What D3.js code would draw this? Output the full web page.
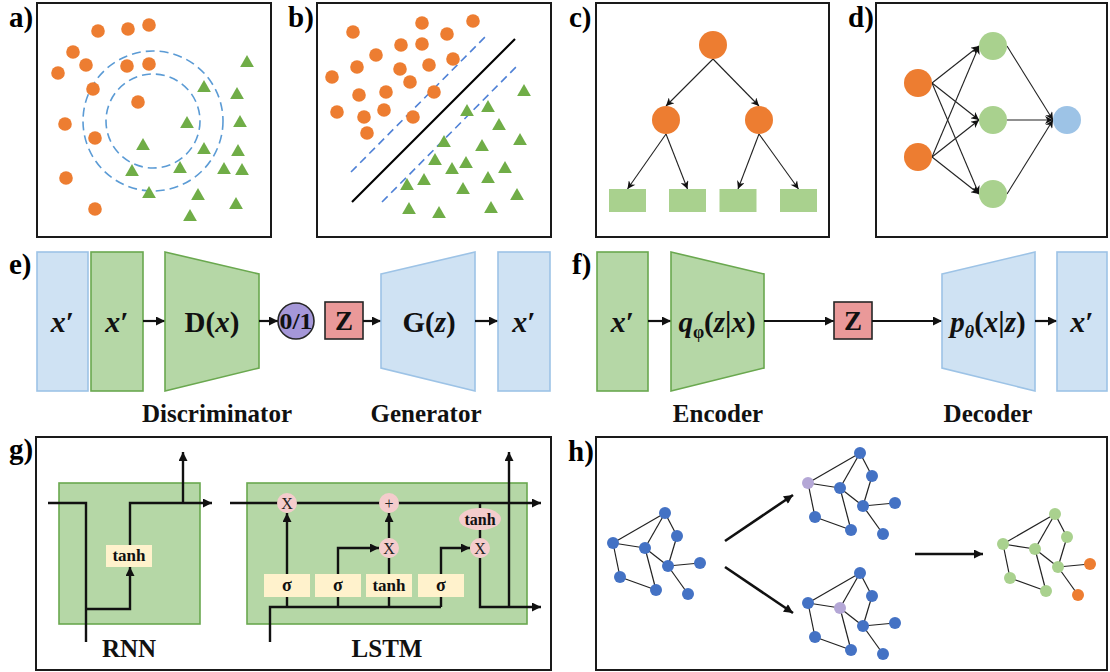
<!DOCTYPE html>
<html><head><meta charset="utf-8">
<script src="https://cdn.jsdelivr.net/npm/d3@7"></script>
<style>
body{margin:0;background:#fff}
svg{display:block}
</style>
</head><body>
<svg id="c" width="1110" height="672" font-family="'Liberation Serif','DejaVu Serif','Times New Roman',serif"></svg>
<script>
// ------------------------------------------------------------ data
const panelLabels = ["a)","b)","c)","d)","e)","f)","g)","h)"];

// panel a (local units of the 234 x 234 panel)
const aOrange = [[61,28],[91,26],[112,22],[36,49],[49,62],[21,70],[90,63],[112,61],[56,86],[101,99],[28,121],[58,135],[29,175],[58,206]];
const aGreen  = [[210,60],[167,85],[200,92],[150,121],[203,120],[106,143],[167,147],[201,149],[95,169],[143,166],[187,167],[205,168],[112,191],[161,193],[199,202],[153,214]];
const aRingCenter = [116,118];
const aRingRadii = [47,70];

// panel b
const bOrange = [[105,20],[156,18],[36,29],[130,31],[84,42],[105,41],[59,52],[136,56],[40,64],[112,62],[83,66],[15,74],[93,79],[42,92],[69,89],[117,89],[20,109],[67,107],[47,114],[96,114],[50,130]];
const bGreen  = [[207,89],[150,109],[171,105],[182,123],[127,140],[165,144],[203,138],[118,158],[149,161],[135,167],[188,166],[90,183],[107,178],[171,176],[146,187],[200,193],[92,207],[122,211],[174,206]];
const bBoundary = [[35,199],[198,36]];
const bMargins  = [[[34,169],[171,31]],[[65,199],[202,61]]];

// panel c (decision tree)
const treeSplits = [{id:"root",x:117,y:42},{id:"L",x:70,y:117},{id:"R",x:163,y:117}];
const treeLeaves = [{id:"l1",x:31.5,y:197.5},{id:"l2",x:91.5,y:197.5},{id:"l3",x:142,y:197.5},{id:"l4",x:202.5,y:197.5}];
const treeLinks  = [["root","L"],["root","R"],["L","l1"],["L","l2"],["R","l3"],["R","l4"]];

// panel d (neural network)
const nnInput  = [[42,80],[42,154]];
const nnHidden = [[117,43],[117,117],[117,191]];
const nnOutput = [[191,117]];

// panel e / f texts
const ganCaptions = ["Discriminator","Generator"];
const vaeCaptions = ["Encoder","Decoder"];

// panel g
const rnnCaption = "RNN";
const lstmCaption = "LSTM";
const lstmGates = ["σ","σ","tanh","σ"];

// panel h (graph)
const gNodes = {A:[665,513],B:[613,543],C:[645,548],D:[677,536],E:[668,566],F:[700,563],G:[620,577],H:[656,590],I:[688,594]};
const gEdges = [["B","A"],["B","C"],["B","G"],["A","C"],["A","D"],["C","E"],["C","H"],["D","E"],["E","F"],["E","I"],["G","H"]];
const gCopies = [
  {dx:0,   dy:0,   base:"#4472C4", special:{}},
  {dx:195, dy:-60, base:"#4472C4", special:{B:"#B4A7D6"}},
  {dx:195, dy:60,  base:"#4472C4", special:{C:"#B4A7D6"}},
  {dx:390, dy:1,   base:"#A9D18E", special:{F:"#ED7D31", I:"#ED7D31"}}
];

// ------------------------------------------------------------ setup
const SERIF = "'Liberation Serif','DejaVu Serif','Times New Roman',serif";
const ORANGE="#ED7D31", TRI="#70AD47", LEAF="#A9D18E", LBLUE="#9DC3E6";
const GFILL="#B5D7A6", GSTROKE="#6AA84F", BFILL="#CFE2F3", BSTROKE="#9DC3E6";
const svg = d3.select("#c");
svg.append("rect").attr("width",1110).attr("height",672).attr("fill","#fff");
const defs = svg.append("defs");
function mk(id, path, w, h){
  defs.append("marker").attr("id",id).attr("viewBox","0 0 10 10")
    .attr("refX",10).attr("refY",5).attr("markerWidth",w).attr("markerHeight",h)
    .attr("markerUnits","userSpaceOnUse").attr("orient","auto")
    .append("path").attr("d",path).attr("fill","#111");
}
mk("thin","M0,0 L10,5 L0,10 L3,5 Z",9,8);
mk("bold","M0,0 L10,5 L0,10 Z",10,9);

function T(sel){ return sel.attr("font-family",SERIF); }

// panel labels
const labelPos = [[9,27],[288,27],[569,27],[848,27],[9,274],[572,274],[9,459],[568,461]];
T(svg.selectAll("text.plab").data(panelLabels).join("text").attr("class","plab"))
  .attr("x",(d,i)=>labelPos[i][0]).attr("y",(d,i)=>labelPos[i][1])
  .attr("font-size",29).attr("font-weight","bold").attr("fill","#000").text(d=>d);

function box(x,y,w,h){
  svg.append("rect").attr("x",x).attr("y",y).attr("width",w).attr("height",h)
    .attr("fill","none").attr("stroke","#1a1a1a").attr("stroke-width",2);
}

// ------------------------------------------------------------ panel a
{
  const x = d3.scaleLinear().domain([0,234]).range([37,271]);
  const y = d3.scaleLinear().domain([0,234]).range([3,237]);
  box(37,3,234,234);
  const g = svg.append("g");
  g.selectAll("circle.ring").data(aRingRadii).join("circle").attr("class","ring")
    .attr("cx",x(aRingCenter[0])).attr("cy",y(aRingCenter[1]))
    .attr("r",d=>x(d)-x(0)).attr("fill","none").attr("stroke","#5B9BD5")
    .attr("stroke-width",1.6).attr("stroke-dasharray","9,5");
  g.selectAll("circle.o").data(aOrange).join("circle").attr("class","o")
    .attr("cx",d=>x(d[0])).attr("cy",d=>y(d[1])).attr("r",6.8).attr("fill",ORANGE);
  g.selectAll("path.t").data(aGreen).join("path").attr("class","t")
    .attr("d",d3.symbol().type(d3.symbolTriangle).size(82))
    .attr("transform",d=>`translate(${x(d[0])},${y(d[1])})`).attr("fill",TRI);
}

// ------------------------------------------------------------ panel b
{
  const x = d3.scaleLinear().domain([0,234]).range([317,551]);
  const y = d3.scaleLinear().domain([0,234]).range([3,237]);
  box(317,3,234,234);
  const g = svg.append("g");
  g.selectAll("line.m").data(bMargins).join("line").attr("class","m")
    .attr("x1",d=>x(d[0][0])).attr("y1",d=>y(d[0][1])).attr("x2",d=>x(d[1][0])).attr("y2",d=>y(d[1][1]))
    .attr("stroke","#4F81D6").attr("stroke-width",1.6).attr("stroke-dasharray","8,5");
  g.append("line").attr("x1",x(bBoundary[0][0])).attr("y1",y(bBoundary[0][1]))
    .attr("x2",x(bBoundary[1][0])).attr("y2",y(bBoundary[1][1]))
    .attr("stroke","#000").attr("stroke-width",2.2);
  g.selectAll("circle.o").data(bOrange).join("circle").attr("class","o")
    .attr("cx",d=>x(d[0])).attr("cy",d=>y(d[1])).attr("r",6.8).attr("fill",ORANGE);
  g.selectAll("path.t").data(bGreen).join("path").attr("class","t")
    .attr("d",d3.symbol().type(d3.symbolTriangle).size(82))
    .attr("transform",d=>`translate(${x(d[0])},${y(d[1])})`).attr("fill",TRI);
}

// ------------------------------------------------------------ panel c
{
  const x = d3.scaleLinear().domain([0,233]).range([596,829]);
  const y = d3.scaleLinear().domain([0,234]).range([3,237]);
  box(596,3,233,234);
  const r = 14, lw = 37, lh = 23;
  const all = {};
  treeSplits.forEach(n=>all[n.id]={...n,leaf:false});
  treeLeaves.forEach(n=>all[n.id]={...n,leaf:true});
  const g = svg.append("g");
  g.selectAll("line").data(treeLinks).join("line")
    .attr("x1",d=>x(all[d[0]].x)).attr("y1",d=>y(all[d[0]].y)+r)
    .attr("x2",d=>x(all[d[1]].x))
    .attr("y2",d=>all[d[1]].leaf ? y(all[d[1]].y)-lh/2 : y(all[d[1]].y)-r)
    .attr("stroke","#222").attr("stroke-width",1.1).attr("marker-end","url(#thin)");
  g.selectAll("circle").data(treeSplits).join("circle")
    .attr("cx",d=>x(d.x)).attr("cy",d=>y(d.y)).attr("r",r).attr("fill",ORANGE);
  g.selectAll("rect").data(treeLeaves).join("rect")
    .attr("x",d=>x(d.x)-lw/2).attr("y",d=>y(d.y)-lh/2).attr("width",lw).attr("height",lh).attr("fill",LEAF);
}

// ------------------------------------------------------------ panel d
{
  const x = d3.scaleLinear().domain([0,231]).range([876,1107]);
  const y = d3.scaleLinear().domain([0,234]).range([3,237]);
  box(876,3,231,234);
  const r = 14;
  const links = [];
  nnInput.forEach(a=>nnHidden.forEach(b=>links.push([a,b])));
  nnHidden.forEach(a=>nnOutput.forEach(b=>links.push([a,b])));
  const g = svg.append("g");
  g.selectAll("line").data(links).join("line")
    .attr("x1",d=>x(d[0][0])+r).attr("y1",d=>y(d[0][1]))
    .attr("x2",d=>x(d[1][0])-r).attr("y2",d=>y(d[1][1]))
    .attr("stroke","#222").attr("stroke-width",1.1).attr("marker-end","url(#thin)");
  const nodes = nnInput.map(p=>({p,c:ORANGE})).concat(nnHidden.map(p=>({p,c:LEAF}))).concat(nnOutput.map(p=>({p,c:LBLUE})));
  g.selectAll("circle").data(nodes).join("circle")
    .attr("cx",d=>x(d.p[0])).attr("cy",d=>y(d.p[1])).attr("r",r).attr("fill",d=>d.c);
}

// ------------------------------------------------------------ helpers for e/f
function rectBlock(x0,x1,fill,stroke){
  svg.append("rect").attr("x",x0).attr("y",252).attr("width",x1-x0).attr("height",139)
    .attr("fill",fill).attr("stroke",stroke).attr("stroke-width",1.6);
}
function trap(x0,x1,wideLeft,fill,stroke){
  const pts = wideLeft ? [[x0,252],[x1,274],[x1,368],[x0,391]] : [[x0,274],[x1,252],[x1,391],[x0,368]];
  svg.append("path").attr("d",d3.line()(pts)+"Z").attr("fill",fill).attr("stroke",stroke).attr("stroke-width",1.6);
}
function arrowH(x0,x1,yy){
  svg.append("line").attr("x1",x0).attr("y1",yy).attr("x2",x1).attr("y2",yy)
    .attr("stroke","#111").attr("stroke-width",2.2).attr("marker-end","url(#bold)");
}
function mathText(cx,by,parts,size){
  const t = T(svg.append("text")).attr("x",cx).attr("y",by).attr("text-anchor","middle")
    .attr("font-size",size).attr("font-weight","bold").attr("fill","#111");
  parts.forEach(p=>{
    const s = t.append("tspan").text(p.t);
    if(p.i) s.attr("font-style","italic");
    if(p.sub){ s.attr("font-size",size*0.62).attr("dy",6); }
    if(p.up){ s.attr("dy",-6); }
  });
  return t;
}
const XPRIME = [{t:"x",i:true},{t:"′"}];
function zBox(x0){
  svg.append("rect").attr("x",x0).attr("y",302).attr("width",38).attr("height",37)
    .attr("fill","#EA9999").attr("stroke","#262626").attr("stroke-width",1.6);
  mathText(x0+19,330,[{t:"Z"}],27);
}
function caption(cls,data,xs,yy){
  T(svg.selectAll("text."+cls).data(data).join("text").attr("class",cls))
    .attr("x",(d,i)=>xs[i]).attr("y",yy).attr("text-anchor","middle")
    .attr("font-size",25).attr("font-weight","bold").attr("fill","#111").text(d=>d);
}

// ------------------------------------------------------------ panel e
{
  rectBlock(37,88,BFILL,BSTROKE);   mathText(62.5,332,XPRIME,30);
  rectBlock(91,143,GFILL,GSTROKE);  mathText(117,332,XPRIME,30);
  arrowH(143,165,321);
  trap(165,259,true,GFILL,GSTROKE);
  mathText(212,332,[{t:"D("},{t:"x",i:true},{t:")"}],29);
  arrowH(259,278,321);
  svg.append("circle").attr("cx",296).attr("cy",321).attr("r",18)
    .attr("fill","#A597D8").attr("stroke","#262626").attr("stroke-width",1.6);
  mathText(296,329,[{t:"0/1"}],23).attr("textLength",33).attr("lengthAdjust","spacingAndGlyphs");
  zBox(325);
  arrowH(363,381,321);
  trap(381,475,false,BFILL,BSTROKE);
  mathText(429,332,[{t:"G("},{t:"z",i:true},{t:")"}],29);
  arrowH(475,498,321);
  rectBlock(498,550,BFILL,BSTROKE); mathText(524,332,XPRIME,30);
  caption("gcap",ganCaptions,[217,426],422);
}

// ------------------------------------------------------------ panel f
{
  rectBlock(597,648,GFILL,GSTROKE); mathText(622.5,332,XPRIME,30);
  arrowH(648,671,321);
  trap(671,764,true,GFILL,GSTROKE);
  mathText(717,332,[{t:"q",i:true},{t:"φ",sub:true},{t:"(",up:true},{t:"z",i:true},{t:"|"},{t:"x",i:true},{t:")"}],29);
  arrowH(764,834,321);
  zBox(834);
  arrowH(872,942,321);
  trap(942,1035,false,BFILL,BSTROKE);
  mathText(988,332,[{t:"p",i:true},{t:"θ",i:true,sub:true},{t:"(",up:true},{t:"x",i:true},{t:"|"},{t:"z",i:true},{t:")"}],29);
  arrowH(1035,1057,321);
  rectBlock(1057,1107,BFILL,BSTROKE); mathText(1082,332,XPRIME,30);
  caption("vcap",vaeCaptions,[718,988],422);
}

// ------------------------------------------------------------ panel g
{
  box(36,437,515,233);
  const line = d3.line();
  const P = (pts,arrow)=>svg.append("path").attr("d",line(pts)).attr("fill","none")
    .attr("stroke","#111").attr("stroke-width",2.4).attr("stroke-linejoin","miter")
    .attr("marker-end",arrow?"url(#bold)":null);
  // RNN
  svg.append("rect").attr("x",59).attr("y",483).attr("width",141).attr("height",141)
    .attr("fill",GFILL).attr("stroke",GSTROKE).attr("stroke-width",1.6);
  P([[48,503],[86,503],[86,642]],false);
  P([[86,609],[130,609],[130,567]],true);
  P([[130,545],[130,503],[212,503]],true);
  P([[183,503],[183,452]],true);
  svg.append("rect").attr("x",106).attr("y",545).attr("width",46).attr("height",22).attr("fill","#FFF2CC");
  T(svg.append("text")).attr("x",129).attr("y",561).attr("text-anchor","middle").attr("font-size",17)
    .attr("font-weight","bold").attr("fill","#111").text("tanh");
  // LSTM
  svg.append("rect").attr("x",247).attr("y",483).attr("width",280).attr("height",141)
    .attr("fill",GFILL).attr("stroke",GSTROKE).attr("stroke-width",1.6);
  const gx = [287,338,389,441];
  P([[230,503],[541,503]],true);
  P([[270,642],[270,607],[441,607]],false);
  gx.forEach(v=>P([[v,607],[v,596]],false));
  P([[287,574],[287,513]],true);
  P([[338,574],[338,548],[379,548]],true);
  P([[389,574],[389,558]],false);
  P([[389,538],[389,513]],true);
  P([[441,574],[441,548],[470,548]],true);
  P([[480,503],[480,548]],false);
  P([[480,558],[480,607],[541,607]],true);
  P([[509,607],[509,452]],true);
  svg.selectAll("rect.gate").data(lstmGates).join("rect").attr("class","gate")
    .attr("x",(d,i)=>gx[i]-23).attr("y",574).attr("width",46).attr("height",23).attr("fill","#FFF2CC");
  T(svg.selectAll("text.gate").data(lstmGates).join("text").attr("class","gate"))
    .attr("x",(d,i)=>gx[i]).attr("y",591).attr("text-anchor","middle")
    .attr("font-size",d=>d==="σ"?18:17).attr("font-weight","bold").attr("fill","#111").text(d=>d);
  const ops = [{x:287,y:503,t:"X"},{x:389,y:503,t:"+"},{x:389,y:548,t:"X"},{x:480,y:548,t:"X"}];
  svg.selectAll("circle.op").data(ops).join("circle").attr("class","op")
    .attr("cx",d=>d.x).attr("cy",d=>d.y).attr("r",10).attr("fill","#F4CCCC");
  T(svg.selectAll("text.op").data(ops).join("text").attr("class","op"))
    .attr("x",d=>d.x).attr("y",d=>d.y+5.5).attr("text-anchor","middle").attr("font-size",16)
    .attr("fill","#222").text(d=>d.t);
  svg.append("ellipse").attr("cx",480).attr("cy",519).attr("rx",21).attr("ry",11).attr("fill","#F4CCCC");
  T(svg.append("text")).attr("x",480).attr("y",524.5).attr("text-anchor","middle").attr("font-size",16)
    .attr("font-weight","bold").attr("fill","#111").text("tanh");
  caption("gcapt",[rnnCaption,lstmCaption],[129,387],657);
}

// ------------------------------------------------------------ panel h
{
  box(596,437,511,233);
  const ar = [[[725,541],[793,495]],[[725,567],[793,613]],[[915,554],[983,554]]];
  svg.selectAll("line.harr").data(ar).join("line").attr("class","harr")
    .attr("x1",d=>d[0][0]).attr("y1",d=>d[0][1]).attr("x2",d=>d[1][0]).attr("y2",d=>d[1][1])
    .attr("stroke","#111").attr("stroke-width",2.6).attr("marker-end","url(#bold)");
  gCopies.forEach(cp=>{
    const g = svg.append("g").attr("transform",`translate(${cp.dx},${cp.dy})`);
    g.selectAll("line").data(gEdges).join("line")
      .attr("x1",d=>gNodes[d[0]][0]).attr("y1",d=>gNodes[d[0]][1])
      .attr("x2",d=>gNodes[d[1]][0]).attr("y2",d=>gNodes[d[1]][1])
      .attr("stroke","#222").attr("stroke-width",1.2);
    g.selectAll("circle").data(Object.keys(gNodes)).join("circle")
      .attr("cx",k=>gNodes[k][0]).attr("cy",k=>gNodes[k][1]).attr("r",6)
      .attr("fill",k=>cp.special[k]||cp.base);
  });
}
</script>
</body></html>
